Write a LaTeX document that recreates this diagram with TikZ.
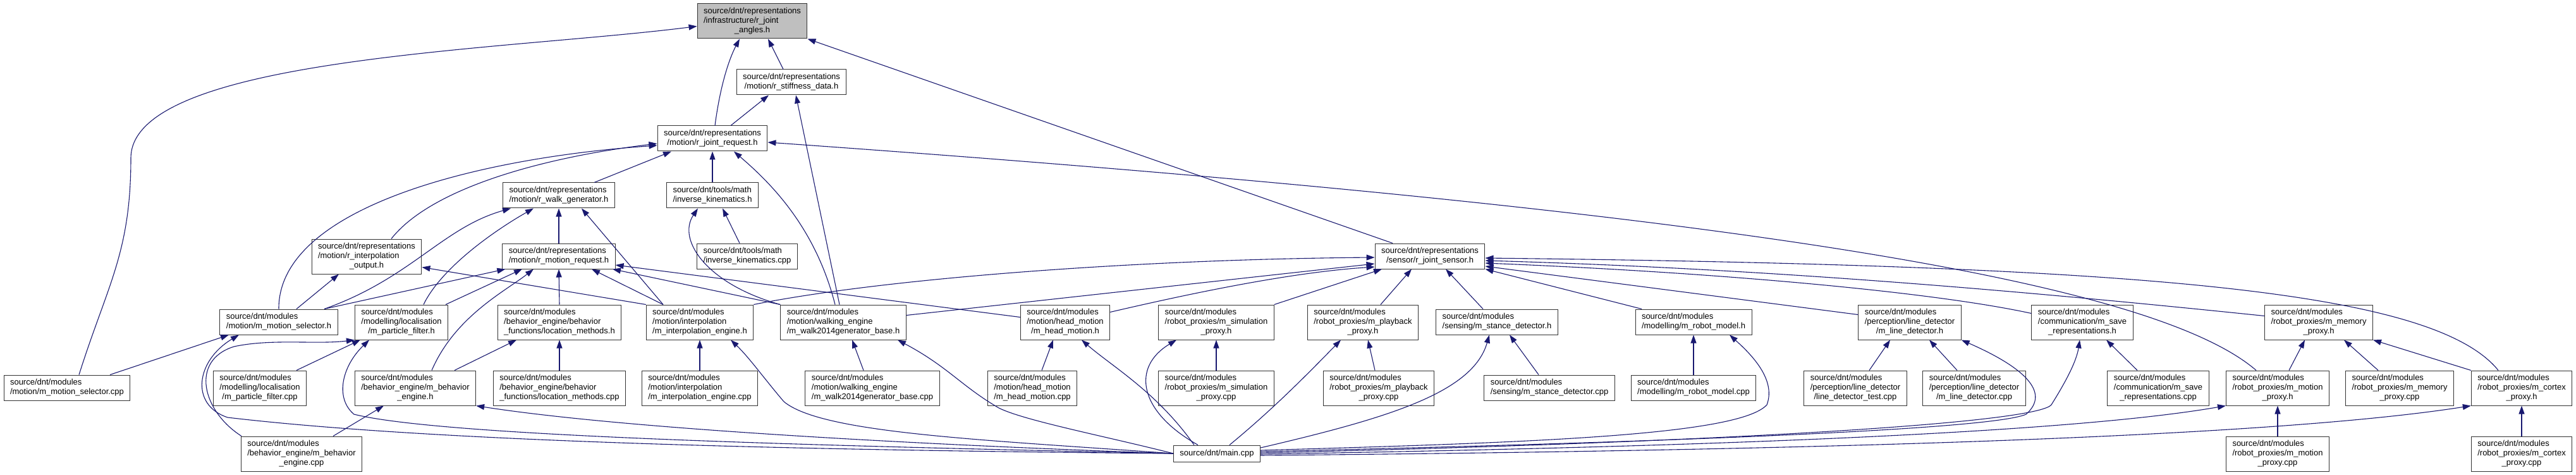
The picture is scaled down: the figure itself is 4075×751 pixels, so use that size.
\documentclass[tikz,border=0pt]{standalone}
\usepackage{fontspec}
\setmainfont{Liberation Sans}
\usepackage{tikz}
\usetikzlibrary{arrows.meta, positioning}
\definecolor{doxyBlue}{RGB}{25,25,112}
\definecolor{doxyGray}{RGB}{191,191,191}
\newcommand{\fileTwo}[2]{\begin{tabular}{@{}l@{}}#1\\\multicolumn{1}{@{}c@{}}{#2}\end{tabular}}
\newcommand{\fileThree}[3]{\begin{tabular}{@{}l@{}}#1\\#2\\\multicolumn{1}{@{}c@{}}{#3}\end{tabular}}

\begin{document}
\begin{tikzpicture}[x=1pt, y=-1pt,
incfile/.style={rectangle, draw=black!80, line width=1pt, fill=white,
inner xsep=10pt, inner ysep=5pt, font=\fontsize{13}{15}\selectfont},
incl/.style={draw=doxyBlue, line width=1.1pt, -{Triangle[length=13pt,width=9pt]}}]
\fill[white] (0,0) rectangle (4075,751);
\useasboundingbox (0,0) rectangle (4075,751);

\node[incfile, fill=doxyGray] (jang) at (1190,33.5)
    {\fileThree{source/dnt/representations}{/infrastructure/r\_joint}{\_angles.h}};
\node[incfile] (stiff) at (1252,130)
    {\fileTwo{source/dnt/representations}{/motion/r\_stiffness\_data.h}};
\node[incfile] (jreq) at (1127,219)
    {\fileTwo{source/dnt/representations}{/motion/r\_joint\_request.h}};
\node[incfile] (walkgen) at (884,309)
    {\fileTwo{source/dnt/representations}{/motion/r\_walk\_generator.h}};
\node[incfile] (invkinh) at (1127,309)
    {\fileTwo{source/dnt/tools/math}{/inverse\_kinematics.h}};
\node[incfile] (interpout) at (580,405.5)
    {\fileThree{source/dnt/representations}{/motion/r\_interpolation}{\_output.h}};
\node[incfile] (motreq) at (884,405)
    {\fileTwo{source/dnt/representations}{/motion/r\_motion\_request.h}};
\node[incfile] (invkincpp) at (1182,405)
    {\fileTwo{source/dnt/tools/math}{/inverse\_kinematics.cpp}};
\node[incfile] (jsens) at (2262,405)
    {\fileTwo{source/dnt/representations}{/sensor/r\_joint\_sensor.h}};

\node[incfile] (motselh) at (441,509)
    {\fileTwo{source/dnt/modules}{/motion/m\_motion\_selector.h}};
\node[incfile] (pfilth) at (635,509.5)
    {\fileThree{source/dnt/modules}{/modelling/localisation}{/m\_particle\_filter.h}};
\node[incfile] (locmh) at (885,509.5)
    {\fileThree{source/dnt/modules}{/behavior\_engine/behavior}{\_functions/location\_methods.h}};
\node[incfile] (interph) at (1107,509.5)
    {\fileThree{source/dnt/modules}{/motion/interpolation}{/m\_interpolation\_engine.h}};
\node[incfile] (walkbh) at (1334,509.5)
    {\fileThree{source/dnt/modules}{/motion/walking\_engine}{/m\_walk2014generator\_base.h}};
\node[incfile] (headh) at (1685,509.5)
    {\fileThree{source/dnt/modules}{/motion/head\_motion}{/m\_head\_motion.h}};
\node[incfile] (simh) at (1924,509.5)
    {\fileThree{source/dnt/modules}{/robot\_proxies/m\_simulation}{\_proxy.h}};
\node[incfile] (playh) at (2156,509.5)
    {\fileThree{source/dnt/modules}{/robot\_proxies/m\_playback}{\_proxy.h}};
\node[incfile] (stanceh) at (2368,509)
    {\fileTwo{source/dnt/modules}{/sensing/m\_stance\_detector.h}};
\node[incfile] (robmh) at (2679,509)
    {\fileTwo{source/dnt/modules}{/modelling/m\_robot\_model.h}};
\node[incfile] (lineh) at (3021,509.5)
    {\fileThree{source/dnt/modules}{/perception/line\_detector}{/m\_line\_detector.h}};
\node[incfile] (saveh) at (3294,509.5)
    {\fileThree{source/dnt/modules}{/communication/m\_save}{\_representations.h}};
\node[incfile] (memh) at (3668,509.5)
    {\fileThree{source/dnt/modules}{/robot\_proxies/m\_memory}{\_proxy.h}};

\node[incfile] (motselcpp) at (106,613)
    {\fileTwo{source/dnt/modules}{/motion/m\_motion\_selector.cpp}};
\node[incfile] (pfiltcpp) at (411,613.5)
    {\fileThree{source/dnt/modules}{/modelling/localisation}{/m\_particle\_filter.cpp}};
\node[incfile] (behh) at (657,613.5)
    {\fileThree{source/dnt/modules}{/behavior\_engine/m\_behavior}{\_engine.h}};
\node[incfile] (locmcpp) at (885,613.5)
    {\fileThree{source/dnt/modules}{/behavior\_engine/behavior}{\_functions/location\_methods.cpp}};
\node[incfile] (interpcpp) at (1107,613.5)
    {\fileThree{source/dnt/modules}{/motion/interpolation}{/m\_interpolation\_engine.cpp}};
\node[incfile] (walkbcpp) at (1380,613.5)
    {\fileThree{source/dnt/modules}{/motion/walking\_engine}{/m\_walk2014generator\_base.cpp}};
\node[incfile] (headcpp) at (1633,613.5)
    {\fileThree{source/dnt/modules}{/motion/head\_motion}{/m\_head\_motion.cpp}};
\node[incfile] (simcpp) at (1924,613.5)
    {\fileThree{source/dnt/modules}{/robot\_proxies/m\_simulation}{\_proxy.cpp}};
\node[incfile] (playcpp) at (2181,613.5)
    {\fileThree{source/dnt/modules}{/robot\_proxies/m\_playback}{\_proxy.cpp}};
\node[incfile] (stancecpp) at (2451,613)
    {\fileTwo{source/dnt/modules}{/sensing/m\_stance\_detector.cpp}};
\node[incfile] (robmcpp) at (2679,613)
    {\fileTwo{source/dnt/modules}{/modelling/m\_robot\_model.cpp}};
\node[incfile] (linetest) at (2935,613.5)
    {\fileThree{source/dnt/modules}{/perception/line\_detector}{/line\_detector\_test.cpp}};
\node[incfile] (linecpp) at (3123,613.5)
    {\fileThree{source/dnt/modules}{/perception/line\_detector}{/m\_line\_detector.cpp}};
\node[incfile] (savecpp) at (3414,613.5)
    {\fileThree{source/dnt/modules}{/communication/m\_save}{\_representations.cpp}};
\node[incfile] (motproxh) at (3603,613.5)
    {\fileThree{source/dnt/modules}{/robot\_proxies/m\_motion}{\_proxy.h}};
\node[incfile] (memcpp) at (3796,613.5)
    {\fileThree{source/dnt/modules}{/robot\_proxies/m\_memory}{\_proxy.cpp}};
\node[incfile] (cortexh) at (3989,613.5)
    {\fileThree{source/dnt/modules}{/robot\_proxies/m\_cortex}{\_proxy.h}};

\node[incfile] (behcpp) at (477,717.5)
    {\fileThree{source/dnt/modules}{/behavior\_engine/m\_behavior}{\_engine.cpp}};
\node[incfile, minimum height=26pt] (maincpp) at (1925,717) {source/dnt/main.cpp};
\node[incfile] (motproxcpp) at (3603,717.5)
    {\fileThree{source/dnt/modules}{/robot\_proxies/m\_motion}{\_proxy.cpp}};
\node[incfile] (cortexcpp) at (3989,717.5)
    {\fileThree{source/dnt/modules}{/robot\_proxies/m\_cortex}{\_proxy.cpp}};

% includes of the joint angles header
\draw[incl] ([xshift=19pt]motselcpp.north) .. controls (170,450) and (207,400) .. (207,250)
    .. controls (207,90) and (800,80) .. ([yshift=-8pt]jang.west);
\draw[incl] ([xshift=4pt]jreq.north) .. controls (1140,130) and (1155,90) .. ([xshift=-20pt]jang.south);
\draw[incl] ([xshift=-13pt]stiff.north) -- ([xshift=25pt]jang.south);
\draw[incl] ([xshift=-59pt]jsens.north) -- (jang.south east);
\draw[incl] ([xshift=29pt]jreq.north) -- ([xshift=-36pt]stiff.south);
\draw[incl] ([xshift=-6pt]walkbh.north) -- ([xshift=7pt]stiff.south);

% joint request
\draw[incl] (motselh.north) .. controls (440,330) and (750,250) .. ([yshift=-11pt]jreq.west);
\draw[incl] ([xshift=39pt]interpout.north) .. controls (680,300) and (850,250) .. ([yshift=-8pt]jreq.west);
\draw[incl] ([xshift=56pt]walkgen.north) -- ([xshift=-65pt]jreq.south);
\draw[incl] (invkinh.north) -- (jreq.south);
\draw[incl] ([xshift=-13pt]walkbh.north) .. controls (1290,360) and (1220,290) .. ([xshift=34pt]jreq.south);
\draw[incl] ([xshift=-34pt]motproxh.north) .. controls (3400,440) and (2700,330) .. ([yshift=-6pt]jreq.east);

% walk generator, kinematics, motion request
\draw[incl] ([xshift=72pt]motselh.north) .. controls (650,440) and (700,360) .. ([xshift=-76pt]walkgen.south);
\draw[incl] ([xshift=35pt]pfilth.north) .. controls (700,420) and (790,360) .. ([xshift=-40pt]walkgen.south);
\draw[incl] (motreq.north) -- (walkgen.south);
\draw[incl] ([xshift=-58pt]interph.north) -- ([xshift=36pt]walkgen.south);
\draw[incl] (walkbh.north west) .. controls (1120,450) and (1070,380) .. ([xshift=-23pt]invkinh.south);
\draw[incl] ([xshift=-12pt]invkincpp.north) -- ([xshift=16pt]invkinh.south);
\draw[incl] ([xshift=72pt]motselh.north) -- ([xshift=5pt]motreq.south west);
\draw[incl] ([xshift=70pt]pfilth.north) -- ([xshift=-58pt]motreq.south);
\draw[incl] ([xshift=26pt]behh.north) .. controls (720,500) and (800,460) .. ([xshift=-40pt]motreq.south);
\draw[incl] (locmh.north) -- (motreq.south);
\draw[incl] ([xshift=-58pt]interph.north) -- ([xshift=52pt]motreq.south);
\draw[incl] (walkbh.north west) -- ([xshift=85pt]motreq.south);
\draw[incl] ([yshift=8pt]headh.west) -- ([yshift=-14pt]motreq.east);
\draw[incl] ([xshift=28pt]motselh.north) -- ([xshift=-44pt]interpout.south);
\draw[incl] (interph.north west) -- ([yshift=-17pt]interpout.east);

% module headers
\draw[incl] ([xshift=68pt]motselcpp.north) -- ([xshift=-79pt]motselh.south);
\draw[incl] (maincpp.west) .. controls (1300,712) and (700,700) .. (360,660)
    .. controls (300,640) and (310,570) .. ([xshift=-63pt]motselh.south);
\draw[incl] ([xshift=-95pt]behcpp.north) .. controls (320,650) and (300,570) .. (370,548)
    .. controls (430,535) and (500,545) .. (pfilth.south west);
\draw[incl] ([xshift=58pt]pfiltcpp.north) -- ([xshift=-65pt]pfilth.south);
\draw[incl] (maincpp.west) .. controls (1300,705) and (700,690) .. (560,655)
    .. controls (530,630) and (540,580) .. ([xshift=-51pt]pfilth.south);
\draw[incl] ([xshift=50pt]behcpp.north) -- ([xshift=-50pt]behh.south);
\draw[incl] (maincpp.west) .. controls (1500,705) and (1000,680) .. (behh.south east);
\draw[incl] ([xshift=62pt]behh.north) -- ([xshift=-68pt]locmh.south);
\draw[incl] (locmcpp.north) -- (locmh.south);
\draw[incl] (interpcpp.north) -- (interph.south);
\draw[incl] (maincpp.west) .. controls (1550,695) and (1300,685) .. (1240,635)
    .. controls (1210,600) and (1185,565) .. ([xshift=49pt]interph.south);
\draw[incl] ([xshift=-14pt]walkbcpp.north) -- ([xshift=14pt]walkbh.south);
\draw[incl] (maincpp.west) .. controls (1750,690) and (1620,665) .. (1580,645)
    .. controls (1520,610) and (1500,580) .. ([xshift=86pt]walkbh.south);

% joint sensor
\draw[incl] (interph.north east) .. controls (1400,440) and (1800,410) .. ([yshift=-2pt]jsens.west);
\draw[incl] ([yshift=11pt]walkbh.east) -- ([yshift=-12pt]jsens.west);
\draw[incl] ([yshift=16pt]headh.east) .. controls (1900,460) and (2050,430) .. ([yshift=-17pt]jsens.west);
\draw[incl] (simh.north east) -- ([xshift=-76pt]jsens.south);
\draw[incl] ([xshift=28pt]playh.north) -- ([xshift=-29pt]jsens.south);
\draw[incl] ([xshift=-22pt]stanceh.north) -- ([xshift=25pt]jsens.south);
\draw[incl] ([xshift=-82pt]robmh.north) -- (jsens.south east);
\draw[incl] ([yshift=12pt]lineh.west) -- ([yshift=-16pt]jsens.east);
\draw[incl] ([yshift=14pt]saveh.west) .. controls (3050,460) and (2700,430) .. ([yshift=-11pt]jsens.east);
\draw[incl] ([yshift=10pt]memh.west) .. controls (3200,460) and (2800,425) .. ([yshift=-7pt]jsens.east);
\draw[incl] ([xshift=-37pt]cortexh.north) .. controls (3850,460) and (3400,420) .. ([yshift=-3pt]jsens.east);

% sources and main
\draw[incl] ([xshift=15pt]headcpp.north) -- ([xshift=-19pt]headh.south);
\draw[incl] ([xshift=-36pt]maincpp.north) .. controls (1830,620) and (1760,580) .. ([xshift=26pt]headh.south);
\draw[incl] (simcpp.north) -- (simh.south);
\draw[incl] ([xshift=-30pt]maincpp.north) .. controls (1800,650) and (1790,580) .. ([xshift=-63pt]simh.south);
\draw[incl] ([xshift=-6pt]playcpp.north) -- ([xshift=8pt]playh.south);
\draw[incl] ([xshift=20pt]maincpp.north) .. controls (2010,650) and (2060,600) .. ([xshift=-35pt]playh.south);
\draw[incl] ([xshift=-17pt]stancecpp.north) -- ([xshift=20pt]stanceh.south);
\draw[incl] ([yshift=9pt]maincpp.east) .. controls (2200,660) and (2330,620) .. ([xshift=-12pt]stanceh.south);
\draw[incl] (robmcpp.north) -- (robmh.south);
\draw[incl] ([yshift=5pt]maincpp.east) .. controls (2400,700) and (2750,690) .. (2795,640)
    .. controls (2810,600) and (2770,560) .. ([xshift=57pt]robmh.south);
\draw[incl] ([xshift=22pt]linetest.north) -- ([xshift=-31pt]lineh.south);
\draw[incl] ([xshift=-27pt]linecpp.north) -- ([xshift=31pt]lineh.south);
\draw[incl] ([yshift=3pt]maincpp.east) .. controls (2600,700) and (3150,680) .. (3205,655)
    .. controls (3245,620) and (3200,580) .. (lineh.south east);
\draw[incl] ([xshift=-33pt]savecpp.north) -- ([xshift=38pt]saveh.south);
\draw[incl] ([yshift=1pt]maincpp.east) .. controls (2700,700) and (3220,670) .. (3245,640)
    .. controls (3270,600) and (3285,570) .. ([xshift=-4pt]saveh.south);
\draw[incl] ([xshift=18pt]motproxh.north) -- ([xshift=-22pt]memh.south);
\draw[incl] ([xshift=-34pt]memcpp.north) -- ([xshift=40pt]memh.south);
\draw[incl] (cortexh.north west) -- (memh.south east);
\draw[incl] (motproxcpp.north) -- (motproxh.south);
\draw[incl] ([yshift=-1pt]maincpp.east) .. controls (2800,705) and (3300,680) .. (motproxh.south west);
\draw[incl] (cortexcpp.north) -- (cortexh.south);
\draw[incl] ([yshift=-3pt]maincpp.east) .. controls (2900,712) and (3600,690) .. (cortexh.south west);
\end{tikzpicture}
\end{document}
